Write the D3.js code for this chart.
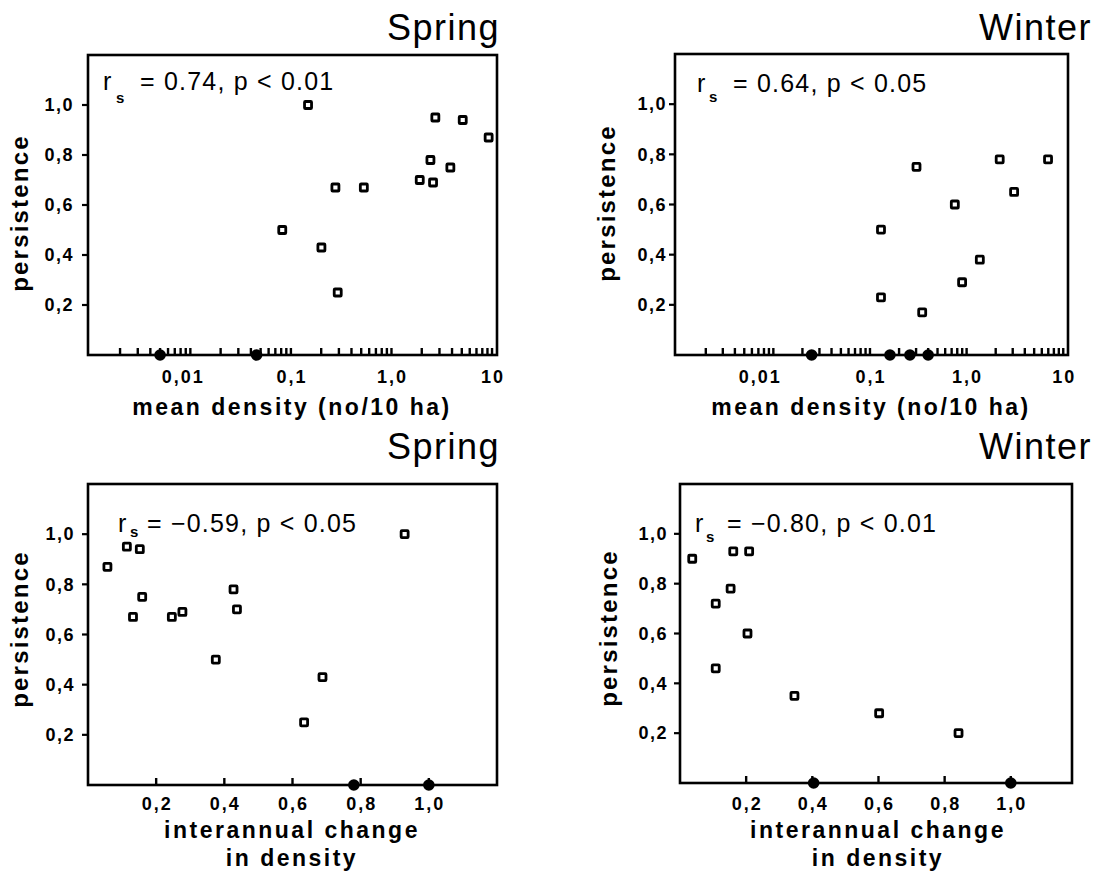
<!DOCTYPE html>
<html><head><meta charset="utf-8">
<script src="https://cdn.jsdelivr.net/npm/d3@7"></script>
<style>body{margin:0;background:#fff}</style>
</head><body>
<svg id="c" width="1098" height="881"></svg>
<script>
// ---------- data ----------
// Spring, mean density (no/10 ha) vs persistence
const springDensityX = [0.148, 0.082, 0.201, 0.277, 0.292, 0.531, 1.91, 2.44, 2.59, 2.73, 3.85, 5.11, 9.25];
const springDensityY = [1.00, 0.50, 0.43, 0.67, 0.25, 0.67, 0.70, 0.78, 0.69, 0.95, 0.75, 0.94, 0.87];
const springDensityZeroX = [0.0050, 0.0456];
// Winter, mean density vs persistence
const winterDensityX = [0.130, 0.130, 0.303, 0.347, 0.755, 0.898, 1.37, 2.20, 3.10, 6.96];
const winterDensityY = [0.50, 0.23, 0.75, 0.17, 0.60, 0.29, 0.38, 0.78, 0.65, 0.78];
const winterDensityZeroX = [0.0249, 0.161, 0.259, 0.40];
// Spring, interannual change in density vs persistence
const springChangeX = [0.057, 0.114, 0.152, 0.132, 0.159, 0.246, 0.277, 0.375, 0.427, 0.437, 0.634, 0.688, 0.929];
const springChangeY = [0.87, 0.95, 0.94, 0.67, 0.75, 0.67, 0.69, 0.50, 0.78, 0.70, 0.25, 0.43, 1.00];
const springChangeZeroX = [0.78, 1.0];
// Winter, interannual change in density vs persistence
const winterChangeX = [0.037, 0.108, 0.108, 0.153, 0.161, 0.209, 0.204, 0.346, 0.602, 0.842];
const winterChangeY = [0.90, 0.72, 0.46, 0.78, 0.93, 0.93, 0.60, 0.35, 0.28, 0.20];
const winterChangeZeroX = [0.404, 1.0];

// ticks and labels
const yTicks = [0.2, 0.4, 0.6, 0.8, 1.0];
const yTickLabels = ["0,2", "0,4", "0,6", "0,8", "1,0"];
const logMajorTicks = [0.01, 0.1, 1, 10];
const logTickLabels = ["0,01", "0,1", "1,0", "10"];
const linTicks = [0.2, 0.4, 0.6, 0.8, 1.0];
const linTickLabels = ["0,2", "0,4", "0,6", "0,8", "1,0"];

const titles = ["Spring", "Winter", "Spring", "Winter"];
const stats = ["= 0.74, p < 0.01", "= 0.64, p < 0.05", "= \u22120.59, p < 0.05", "= \u22120.80, p < 0.01"];
const yTitle = "persistence";
const densityTitle = ["mean density (no/10 ha)"];
const changeTitle = ["interannual change", "in density"];

// ---------- layout ----------
const FONT = '"Liberation Sans", Arial, Helvetica, sans-serif';
const svg = d3.select("#c");

const panels = [
  { xs: springDensityX, ys: springDensityY, zero: springDensityZeroX, log: true,
    left: 88, right: 497, top: 55, bottom: 355, title: titles[0], titleX: 500, titleY: 40,
    r: [103, 90], s: [116, 103], eq: [140, 90], stat: stats[0], yt: [28, 213], gap: 12,
    xt: densityTitle, xtX: 292, xtY: [415], firstDx: -8, labY: 383 },
  { xs: winterDensityX, ys: winterDensityY, zero: winterDensityZeroX, log: true,
    left: 675, right: 1068, top: 54, bottom: 355, title: titles[1], titleX: 1092, titleY: 40,
    r: [697, 92], s: [709, 102], eq: [733, 92], stat: stats[1], yt: [615, 203], gap: 6,
    xt: densityTitle, xtX: 871, xtY: [415], firstDx: -14, labY: 383 },
  { xs: springChangeX, ys: springChangeY, zero: springChangeZeroX, log: false, xmax: 1.2,
    left: 88, right: 497, top: 484, bottom: 785, title: titles[2], titleX: 500, titleY: 459,
    r: [118, 532], s: [130, 537], eq: [147, 532], stat: stats[2], yt: [28, 629], gap: 11,
    xt: changeTitle, xtX: 292, xtY: [838, 866], firstDx: 0, labY: 810 },
  { xs: winterChangeX, ys: winterChangeY, zero: winterChangeZeroX, log: false, xmax: 1.185,
    left: 680, right: 1072, top: 484, bottom: 783, title: titles[3], titleX: 1092, titleY: 459,
    r: [695, 532], s: [706, 542], eq: [727, 532], stat: stats[3], yt: [617, 628], gap: 10,
    xt: changeTitle, xtX: 878, xtY: [838, 866], firstDx: 0, labY: 810 }
];

panels.forEach(p => {
  const g = svg.append("g");
  const x = p.log
    ? d3.scaleLog().domain([0.00096, 11.2]).range([p.left, p.right])
    : d3.scaleLinear().domain([0, p.xmax]).range([p.left, p.right]);
  const y = d3.scaleLinear().domain([0, 1.2]).range([p.bottom, p.top]);

  // frame
  g.append("rect")
    .attr("x", p.left).attr("y", p.top)
    .attr("width", p.right - p.left).attr("height", p.bottom - p.top)
    .attr("fill", "none").attr("stroke", "#000").attr("stroke-width", 2.6);

  // x tick marks (inward)
  const tickVals = p.log ? x.ticks(20).filter(v => v > 0.0011 && v < 11) : linTicks;
  g.selectAll("line.xt").data(tickVals).join("line")
    .attr("class", "xt")
    .attr("x1", d => x(d)).attr("x2", d => x(d))
    .attr("y1", p.bottom).attr("y2", p.bottom - 7)
    .attr("stroke", "#000").attr("stroke-width", 2.4);

  // x tick labels
  const majors = p.log ? logMajorTicks : linTicks;
  const majorLabels = p.log ? logTickLabels : linTickLabels;
  g.selectAll("text.xl").data(majors).join("text")
    .attr("class", "xl")
    .attr("x", (d, i) => x(d) + (i === 0 ? p.firstDx : 0) + 1).attr("y", p.labY)
    .attr("text-anchor", "middle")
    .attr("font-family", FONT).attr("font-size", 18).attr("font-weight", "bold")
    .attr("letter-spacing", "2px").attr("fill", "#000")
    .text((d, i) => majorLabels[i]);

  // y tick marks (outward) + labels
  g.selectAll("line.yt").data(yTicks).join("line")
    .attr("class", "yt")
    .attr("x1", p.left - 6).attr("x2", p.left)
    .attr("y1", d => y(d)).attr("y2", d => y(d))
    .attr("stroke", "#000").attr("stroke-width", 2.2);
  g.selectAll("text.yl").data(yTicks).join("text")
    .attr("class", "yl")
    .attr("x", p.left - p.gap - 2).attr("y", d => y(d)).attr("dy", "0.35em")
    .attr("text-anchor", "end")
    .attr("font-family", FONT).attr("font-size", 18).attr("font-weight", "bold")
    .attr("letter-spacing", "1.5px").attr("fill", "#000")
    .text((d, i) => yTickLabels[i]);

  // open squares
  const pts = p.xs.map((v, i) => [v, p.ys[i]]);
  g.selectAll("rect.pt").data(pts).join("rect")
    .attr("class", "pt")
    .attr("x", d => x(d[0]) - 3.5).attr("y", d => y(d[1]) - 3.5)
    .attr("width", 7).attr("height", 7).attr("rx", 0.8)
    .attr("fill", "#fff").attr("stroke", "#000").attr("stroke-width", 2.8);

  // filled dots at persistence 0
  g.selectAll("circle.z").data(p.zero).join("circle")
    .attr("class", "z")
    .attr("cx", d => x(d)).attr("cy", y(0)).attr("r", 5.8).attr("fill", "#000");

  // title
  g.append("text").attr("x", p.titleX).attr("y", p.titleY)
    .attr("text-anchor", "end").attr("font-family", FONT).attr("font-size", 36)
    .attr("letter-spacing", "1.5px").attr("fill", "#000").text(p.title);

  // stat annotation
  g.append("text").attr("x", p.r[0]).attr("y", p.r[1])
    .attr("font-family", FONT).attr("font-size", 25).attr("fill", "#000").text("r");
  g.append("text").attr("x", p.s[0]).attr("y", p.s[1])
    .attr("font-family", FONT).attr("font-size", 15).attr("font-weight", "bold").attr("fill", "#000").text("s");
  g.append("text").attr("x", p.eq[0]).attr("y", p.eq[1])
    .attr("font-family", FONT).attr("font-size", 25).attr("letter-spacing", "1.2px")
    .attr("fill", "#000").text(p.stat);

  // y title
  g.append("text")
    .attr("transform", `translate(${p.yt[0]},${p.yt[1]}) rotate(-90)`)
    .attr("text-anchor", "middle").attr("font-family", FONT).attr("font-size", 24)
    .attr("font-weight", "bold").attr("letter-spacing", "2.2px").attr("fill", "#000")
    .text(yTitle);

  // x title
  p.xt.forEach((t, i) => {
    g.append("text").attr("x", p.xtX).attr("y", p.xtY[i])
      .attr("text-anchor", "middle").attr("font-family", FONT).attr("font-size", 23)
      .attr("font-weight", "bold").attr("letter-spacing", "2.5px").attr("fill", "#000")
      .text(t);
  });
});
</script>
</body></html>
